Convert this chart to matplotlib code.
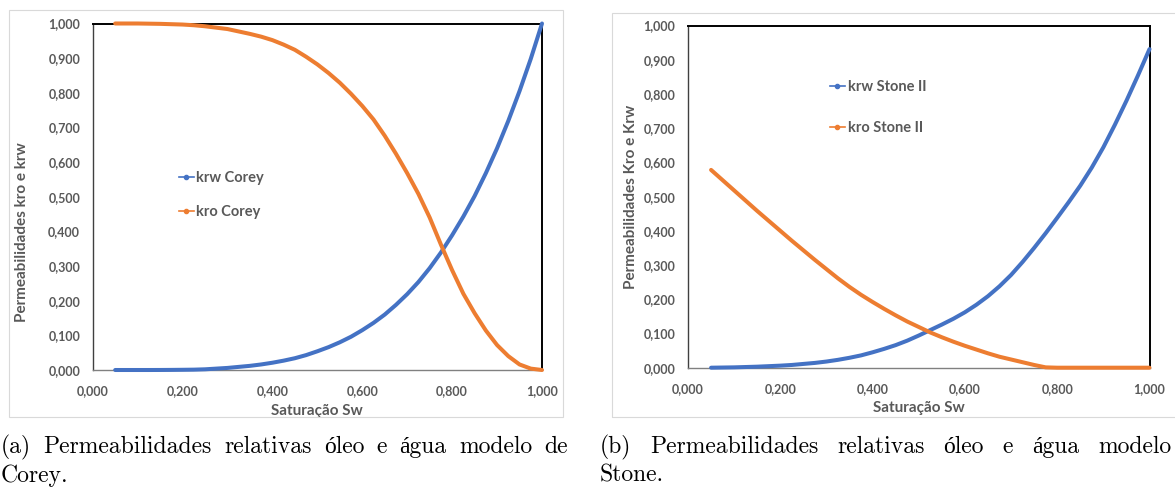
import matplotlib
matplotlib.use("Agg")
import matplotlib.pyplot as plt
from matplotlib.lines import Line2D
from matplotlib.patches import Rectangle
from matplotlib.ticker import FuncFormatter

# ---------------- data ----------------
sw = [0.050, 0.075, 0.100, 0.125, 0.150, 0.175, 0.200, 0.225, 0.250, 0.275,
      0.300, 0.325, 0.350, 0.375, 0.400, 0.425, 0.450, 0.475, 0.500, 0.525,
      0.550, 0.575, 0.600, 0.625, 0.650, 0.675, 0.700, 0.725, 0.750, 0.775,
      0.800, 0.825, 0.850, 0.875, 0.900, 0.925, 0.950, 0.975, 1.000]

krw_corey = [0.000, 0.000, 0.000, 0.000, 0.0001, 0.0003, 0.0006, 0.001, 0.002, 0.004,
             0.006, 0.009, 0.012, 0.016, 0.021, 0.027, 0.034, 0.043, 0.054, 0.066,
             0.080, 0.096, 0.115, 0.136, 0.160, 0.188, 0.219, 0.254, 0.294, 0.339,
             0.389, 0.443, 0.502, 0.568, 0.640, 0.719, 0.805, 0.898, 1.000]
kro_corey = [1.000, 1.000, 1.000, 0.9995, 0.999, 0.998, 0.997, 0.995, 0.992, 0.988,
             0.984, 0.977, 0.970, 0.962, 0.952, 0.939, 0.924, 0.904, 0.882, 0.857,
             0.829, 0.797, 0.762, 0.723, 0.676, 0.624, 0.568, 0.508, 0.440, 0.362,
             0.288, 0.220, 0.164, 0.114, 0.072, 0.040, 0.016, 0.004, 0.000]

krw_stone = [0.000, 0.0005, 0.001, 0.002, 0.003, 0.0045, 0.006, 0.008, 0.011, 0.014,
             0.018, 0.023, 0.029, 0.036, 0.045, 0.055, 0.066, 0.079, 0.094, 0.110,
             0.126, 0.143, 0.162, 0.184, 0.209, 0.238, 0.271, 0.309, 0.350, 0.393,
             0.438, 0.484, 0.532, 0.585, 0.644, 0.710, 0.780, 0.854, 0.931]
kro_stone = [0.578, 0.548, 0.518, 0.488, 0.458, 0.429, 0.400, 0.371, 0.343, 0.315,
             0.288, 0.261, 0.236, 0.213, 0.192, 0.172, 0.153, 0.135, 0.119, 0.103,
             0.089, 0.076, 0.064, 0.053, 0.042, 0.032, 0.024, 0.016, 0.008, 0.001,
             0.000, 0.000, 0.000, 0.000, 0.000, 0.000, 0.000, 0.000, 0.000]

x_ticks = [0.0, 0.2, 0.4, 0.6, 0.8, 1.0]
y_ticks = [0.0, 0.1, 0.2, 0.3, 0.4, 0.5, 0.6, 0.7, 0.8, 0.9, 1.0]

x_title = "Saturação Sw"
y_title_a = "Permeabilidades kro e krw"
y_title_b = "Permeabilidades Kro e Krw"
labels_a = ["krw Corey", "kro Corey"]
labels_b = ["krw Stone II", "kro Stone II"]
caption_a = ["(a) Permeabilidades relativas óleo e água modelo de", "Corey."]
caption_b = ["(b) Permeabilidades relativas óleo e água modelo", "Stone."]

# ---------------- style ----------------
W, H = 1175, 488
BLUE = "#4472C4"
ORANGE = "#ED7D31"
GRAY = "#595959"
SANS = ["Lato", "DejaVu Sans"]
SERIF = ["cmr10", "Liberation Serif"]

fig = plt.figure(figsize=(W / 100, H / 100), dpi=100)
fig.patch.set_facecolor("white")

# chart-area borders
fig.add_artist(Rectangle((9 / W, (H - 417) / H), 554 / W, 407 / H,
                         transform=fig.transFigure, fill=False,
                         edgecolor="#d9d9d9", lw=0.8))
fig.add_artist(Rectangle((612 / W, (H - 417) / H), 600 / W, 404 / H,
                         transform=fig.transFigure, fill=False,
                         edgecolor="#d9d9d9", lw=0.8))

fmt = FuncFormatter(lambda v, p: f"{v:.3f}".replace(".", ","))


def make_axes(px_left, px_right, px_top, px_bottom):
    return fig.add_axes([px_left / W, (H - px_bottom) / H,
                         (px_right - px_left) / W, (px_bottom - px_top) / H])


def style_axes(ax, ytitle, ylab_xy):
    ax.set_xlim(0, 1)
    ax.set_ylim(0, 1)
    ax.set_xticks(x_ticks)
    ax.set_yticks(y_ticks)
    ax.xaxis.set_major_formatter(fmt)
    ax.yaxis.set_major_formatter(fmt)
    ax.tick_params(length=0, labelsize=9, labelcolor=GRAY)
    ax.tick_params(axis="y", pad=9)
    ax.tick_params(axis="x", pad=11)
    for lab in ax.get_xticklabels() + ax.get_yticklabels():
        lab.set_family(SANS)
        lab.set_fontweight("bold")
    for s in ("top", "right"):
        ax.spines[s].set_color("black")
        ax.spines[s].set_linewidth(1.4)
    ax.spines["left"].set_color("#404040")
    ax.spines["left"].set_linewidth(1.0)
    ax.spines["bottom"].set_color("#808080")
    ax.spines["bottom"].set_linewidth(1.0)
    ax.set_xlabel(x_title, fontsize=11, fontweight="bold", color=GRAY,
                  family=SANS, va="center")
    ax.xaxis.set_label_coords(0.5, -0.118)
    ax.set_ylabel(ytitle, fontsize=11, fontweight="bold", color=GRAY,
                  family=SANS, va="center")
    ax.yaxis.set_label_coords(*ylab_xy)


def add_legend(ax, labels, fx, fy, spacing):
    handles = [Line2D([], [], color=BLUE, lw=1.2, marker="o", ms=3),
               Line2D([], [], color=ORANGE, lw=1.2, marker="o", ms=3)]
    leg = ax.legend(handles, labels, loc="upper left",
                    bbox_to_anchor=(fx / W, (H - fy) / H),
                    bbox_transform=fig.transFigure, frameon=False,
                    borderpad=0, borderaxespad=0, handlelength=1.0,
                    handletextpad=0.2, labelspacing=spacing,
                    prop={"family": SANS, "weight": "bold", "size": 10.5})
    for t in leg.get_texts():
        t.set_color(GRAY)


def draw_series(ax, y, color):
    ax.plot(sw, y, color=color, lw=2.9, clip_on=False,
            solid_capstyle="round", solid_joinstyle="round", zorder=3)


# ---------------- panel (a) Corey ----------------
ax1 = make_axes(92.7, 542.0, 23.5, 370.0)
draw_series(ax1, krw_corey, BLUE)
draw_series(ax1, kro_corey, ORANGE)
style_axes(ax1, y_title_a, (-0.157, 0.398))
add_legend(ax1, labels_a, 179, 171, 1.35)

# ---------------- panel (b) Stone ----------------
ax2 = make_axes(688.0, 1149.5, 25.5, 367.7)
draw_series(ax2, krw_stone, BLUE)
draw_series(ax2, kro_stone, ORANGE)
style_axes(ax2, y_title_b, (-0.1235, 0.5))
add_legend(ax2, labels_b, 830, 80, 1.85)

# ---------------- captions (justified first lines) ----------------
CAP_SIZE = 17
renderer = fig.canvas.get_renderer()


def justified(line, x0, x1, base_px):
    words = line.split(" ")
    texts = [fig.text(0, (H - base_px) / H, w, fontsize=CAP_SIZE,
                      family=SERIF, va="baseline", ha="left") for w in words]
    widths = [t.get_window_extent(renderer).width for t in texts]
    gap = (x1 - x0 - sum(widths)) / max(len(words) - 1, 1)
    x = x0
    for t, wd in zip(texts, widths):
        t.set_x(x / W)
        x += wd + gap


justified(caption_a[0], 1, 568, 453)
justified(caption_b[0], 600, 1171, 453)
fig.text(1 / W, (H - 482) / H, caption_a[1], fontsize=CAP_SIZE,
         family=SERIF, va="baseline", ha="left")
fig.text(600 / W, (H - 482) / H, caption_b[1], fontsize=CAP_SIZE,
         family=SERIF, va="baseline", ha="left")

fig.savefig("out.png", dpi=100, facecolor="white")
